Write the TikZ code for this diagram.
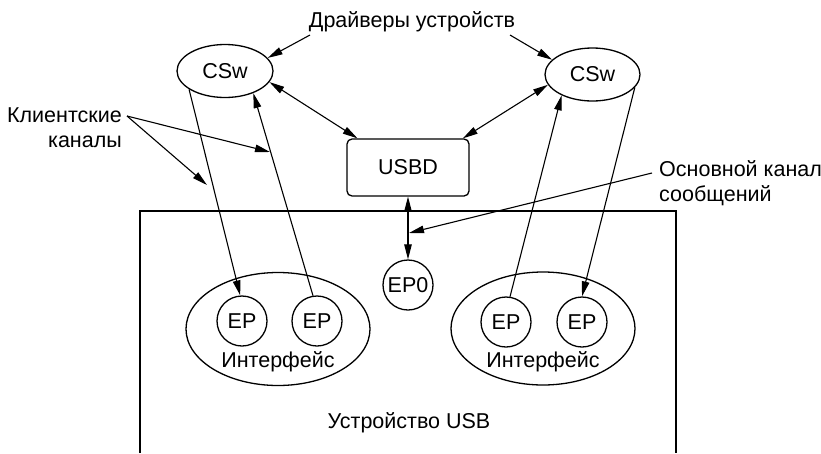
\documentclass[tikz,border=0pt]{standalone}
\usepackage{fontspec}
\setmainfont{Liberation Sans}
\usetikzlibrary{arrows.meta,shapes.geometric}
\begin{document}
\begin{tikzpicture}[x=1pt,y=-1pt,
  every node/.style={font=\fontsize{21.5}{25}\selectfont},
  shapeline/.style={draw,line width=1.3pt},
  ell/.style={shapeline,ellipse,inner sep=0pt},
  epnode/.style={shapeline,circle,inner sep=0pt,minimum size=50pt},
  lbl/.style={inner sep=0pt},
  conn/.style={line width=1.1pt},
  tip/.style={conn,-{Triangle[length=15pt,width=7.5pt]}},
  dtip/.style={conn,{Triangle[length=15pt,width=7.5pt]}-{Triangle[length=15pt,width=7.5pt]}}
]
\path[use as bounding box] (0,0) rectangle (821,453);

% USB device outline (open at the bottom)
\draw[line width=1.3pt] (140,453) -- (140,211) -- (676,211) -- (676,453);

% client software and the USB driver
\node[ell,minimum width=96pt,minimum height=53pt] (csl) at (225,71) {CSw};
\node[ell,minimum width=95pt,minimum height=53pt] (csr) at (592.5,74.5) {CSw};
\node[shapeline,rectangle,rounded corners=5pt,minimum width=122pt,minimum height=57pt] (usbd) at (408,167.5) {USBD};

% endpoint zero
\node[epnode] (ep0) at (408,285) {EP0};

% interfaces with their endpoints
\node[ell,minimum width=184pt,minimum height=113pt] (ifl) at (278,329) {};
\node[ell,minimum width=184pt,minimum height=113pt] (ifr) at (543,328.5) {};
\node[epnode] (ep1) at (242,321) {EP};
\node[epnode] (ep2) at (317,321) {EP};
\node[epnode] (ep3) at (506,322) {EP};
\node[epnode] (ep4) at (582,322) {EP};
\node[lbl] (ifll) at (278,362) {Интерфейс};
\node[lbl] (ifrl) at (543,362) {Интерфейс};
\node[lbl] (dev) at (409,423) {Устройство USB};

% captions
\node[lbl] (drv) at (412,22) {Драйверы устройств};
\node[lbl,align=right,anchor=east] (cli) at (122,127.5) {Клиентские\\каналы};
\node[lbl,align=left,anchor=west] (mcl) at (659,183.5) {Основной канал\\сообщений};

% caption pointers
\coordinate (drvl) at (310,35);
\coordinate (drvr) at (510,35);
\draw[tip] (drvl) -- (csl.17);
\draw[tip] (drvr) -- (csr.160);

\coordinate (clis) at (127,116);
\coordinate (cla) at (270,152);
\coordinate (clb) at (207,185);
\draw[tip] (clis) -- (cla);
\draw[tip] (clis) -- (clb);

\coordinate (mcs) at (652,173);
\coordinate (mce) at (409,233);
\draw[tip] (mcs) -- (mce);

% driver links
\draw[dtip] (csl.-14) -- (usbd.150);
\draw[dtip] (csr.193) -- (usbd.28);
\draw[dtip] (usbd.south) -- (ep0.north);

% client pipes
\draw[tip] (csl.207) -- (ep1.94);
\draw[tip] (ep2.99) -- (csl.-38);
\draw[tip] (ep3.81) -- (csr.214);
\draw[tip] (csr.-17) -- (ep4.90);
\end{tikzpicture}
\end{document}
